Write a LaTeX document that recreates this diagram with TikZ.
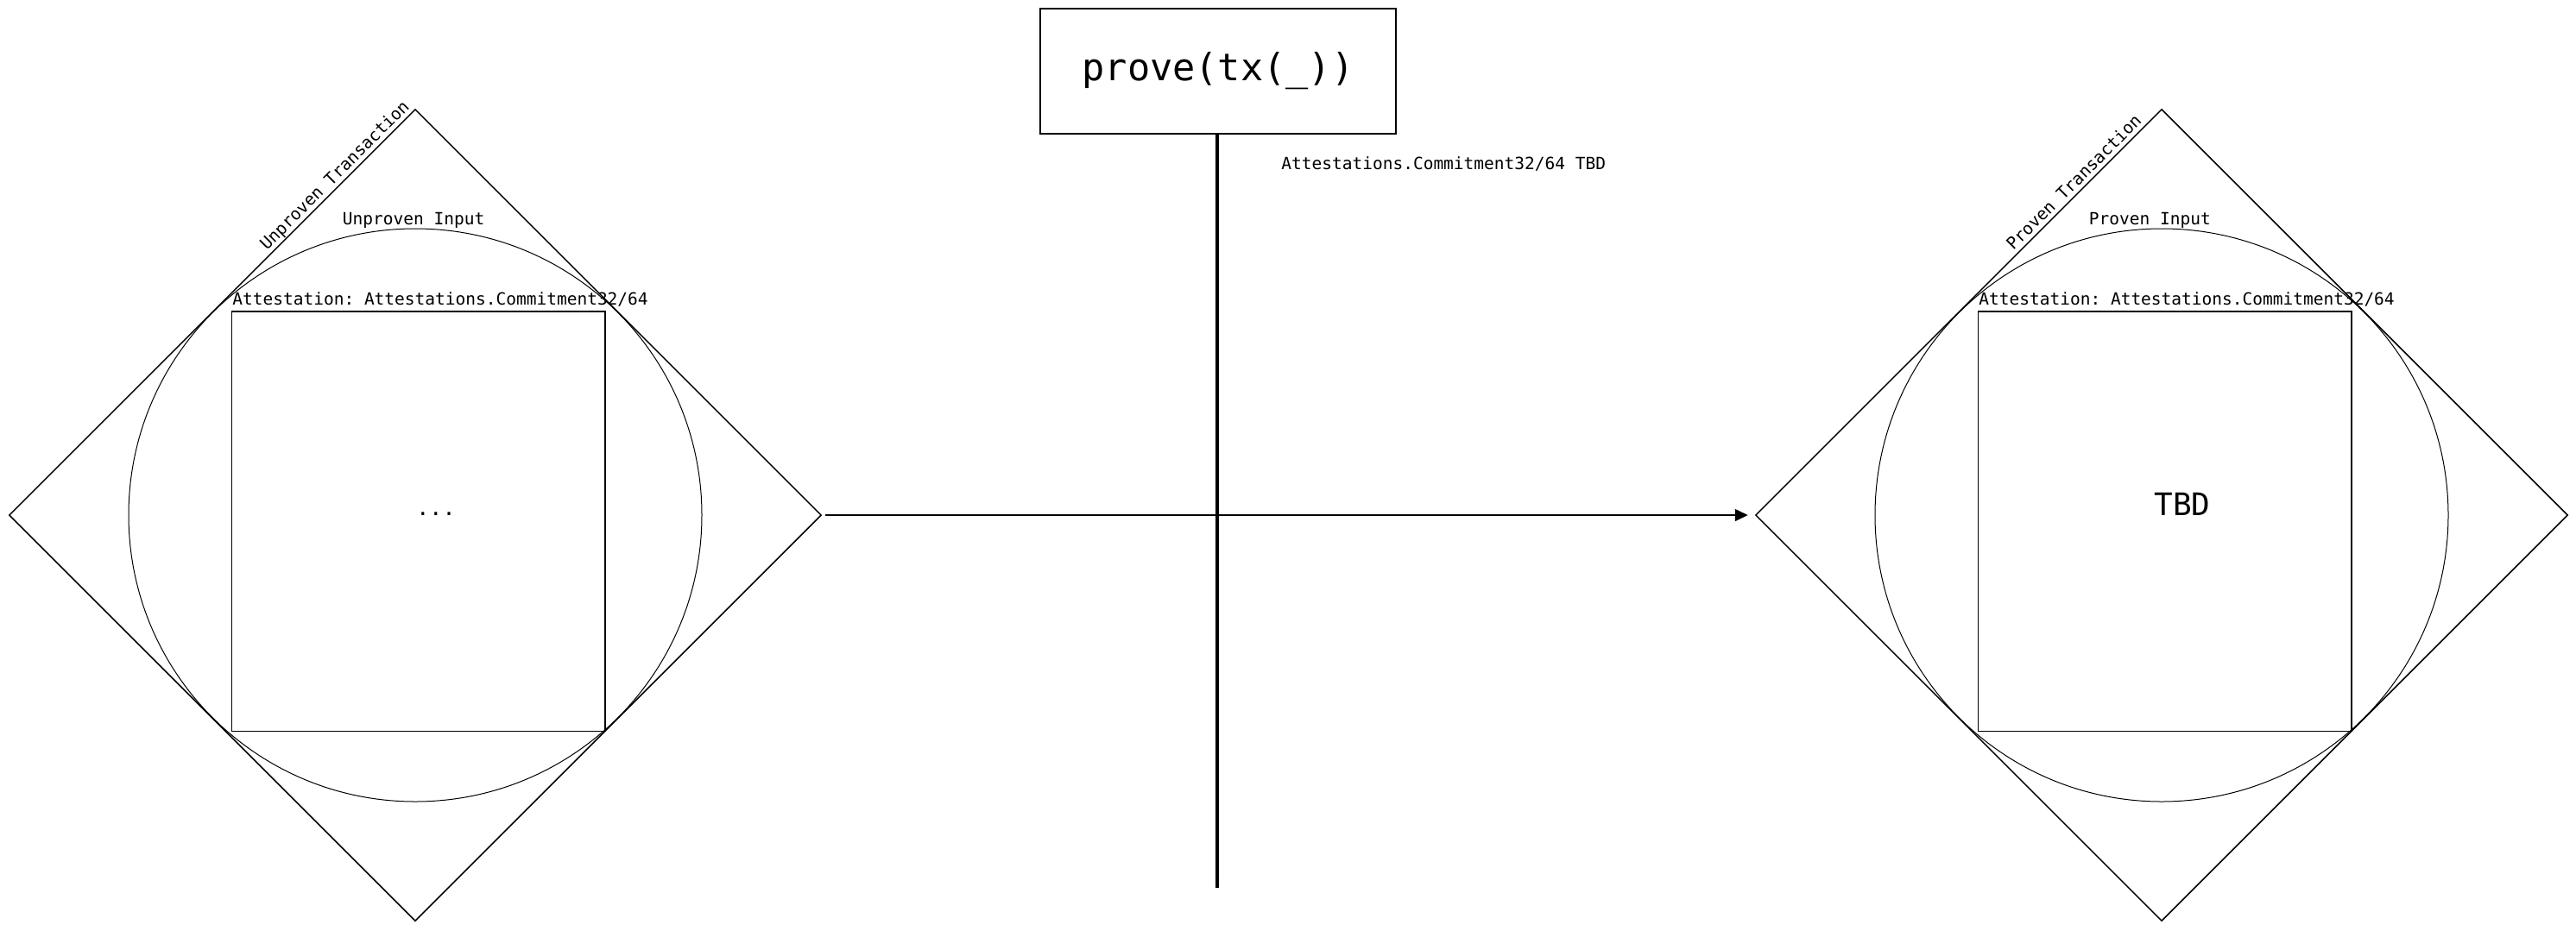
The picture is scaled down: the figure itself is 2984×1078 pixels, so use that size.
\documentclass[tikz,border=0pt]{standalone}
\usepackage{fontspec}
\setmonofont{DejaVu Sans Mono}
\usetikzlibrary{shapes.geometric,arrows.meta}
\newcommand{\lblfont}{\ttfamily\fontsize{9.75}{11}\selectfont}
\newcommand{\bigmono}{\ttfamily\fontsize{21.8}{24}\selectfont}
\newcommand{\tbdfont}{\ttfamily\fontsize{18}{20}\selectfont}
\newcommand{\dotsfont}{\ttfamily\fontsize{12.5}{14}\selectfont}
\tikzset{
  txdiamond/.style={draw, line width=0.75pt, shape=diamond, aspect=1,
    minimum width=470.5pt, minimum height=470.5pt, inner sep=0pt},
  incircle/.style={draw, line width=0.5pt, shape=circle, minimum size=332pt, inner sep=0pt},
  attbox/.style={draw, line width=0.75pt, shape=rectangle,
    minimum width=216.25pt, minimum height=243.25pt, inner sep=0pt},
  procbox/.style={draw, line width=0.75pt, shape=rectangle,
    minimum width=206pt, minimum height=72.5pt, inner sep=0pt, font=\bigmono},
  lbl/.style={inner sep=0pt, font=\lblfont},
  flow/.style={line width=0.8pt, -{Triangle[length=7.5pt,width=7pt]}},
  bar/.style={line width=2.15pt}
}
\begin{document}
\begin{tikzpicture}[x=0.5pt, y=-0.5pt]
  \useasboundingbox (0,0) rectangle (2984,1078);

  % left group: unproven transaction
  \node[txdiamond] (t1) at (481,597) {};
  \node[incircle] (i1) at (481,597) {};
  \node[attbox] (a1) at (484.75,604.25) {};
  \node[lbl, anchor=base west] (i1lbl) at (396.5,260) {Unproven Input};
  \node[lbl, anchor=base west] (a1lbl) at (269,353) {Attestation: Attestations.Commitment32/64};
  \node[inner sep=0pt, font=\dotsfont, anchor=base] (a1txt) at (505,597) {...};
  \node[lbl, rotate=45, anchor=base west] (t1lbl) at (309,291) {Unproven Transaction};

  % right group: proven transaction
  \node[txdiamond] (t2) at (2504,597) {};
  \node[incircle] (i2) at (2504,597) {};
  \node[attbox] (a2) at (2507.75,604.25) {};
  \node[lbl, anchor=base west] (i2lbl) at (2419.5,260) {Proven Input};
  \node[lbl, anchor=base west] (a2lbl) at (2292,353) {Attestation: Attestations.Commitment32/64};
  \node[inner sep=0pt, font=\tbdfont, anchor=base] (a2txt) at (2528,597) {TBD};
  \node[lbl, rotate=45, anchor=base west] (t2lbl) at (2332,291) {Proven Transaction};

  % centre: prove function
  \node[procbox] (prove) at (1411,82.5) {prove(tx(\_))};
  \node[lbl, anchor=base west] (provelbl) at (1484,196) {Attestations.Commitment32/64 TBD};
  \coordinate (pend) at (1410,1029);

  \draw[flow, shorten <=2pt, shorten >=4pt] (t1.east) -- (t2.west);
  \draw[bar] (prove.south -| pend) -- (pend);
\end{tikzpicture}
\end{document}
